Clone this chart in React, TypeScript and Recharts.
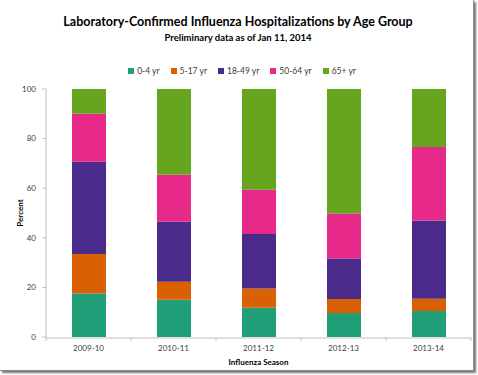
import { Bar, BarChart, Label, XAxis, YAxis } from "recharts";

const seasons = ["2009-10", "2010-11", "2011-12", "2012-13", "2013-14"];
const age0to4 = [17.5, 15.0, 11.8, 9.7, 10.5];
const age5to17 = [16.0, 7.3, 7.8, 5.6, 4.9];
const age18to49 = [37.2, 24.2, 21.9, 16.4, 31.6];
const age50to64 = [19.3, 18.9, 17.9, 18.1, 29.6];
const age65plus = [10.0, 34.6, 40.6, 50.2, 23.4];
const percentTicks = [0, 20, 40, 60, 80, 100];

const series = [
  { key: "a0", name: "0-4 yr", values: age0to4, color: "#1f9e78" },
  { key: "a5", name: "5-17 yr", values: age5to17, color: "#da6004" },
  { key: "a18", name: "18-49 yr", values: age18to49, color: "#4a2a8b" },
  { key: "a50", name: "50-64 yr", values: age50to64, color: "#e7298a" },
  { key: "a65", name: "65+ yr", values: age65plus, color: "#66a61e" },
];

const data = seasons.map((season, i) => {
  const row: Record<string, string | number> = { season, pos: i + 0.5 };
  series.forEach((s) => (row[s.key] = s.values[i]));
  return row;
});

const FONT = "Lato, 'Open Sans', sans-serif";
const AXIS = "#bfbfbf";
const TEXT = "#404040";

export default function App() {
  return (
    <div style={{ position: "absolute", left: 0, top: 0, width: 478, height: 375, background: "#fff" }}>
      <div
        style={{
          position: "absolute",
          left: 0,
          top: 0,
          width: 473,
          height: 370,
          borderRight: "1px solid #8a8a8a",
          borderBottom: "1px solid #8a8a8a",
          boxShadow: "2px 2px 2px rgba(0,0,0,0.55)",
        }}
      />
      <div
        style={{
          position: "absolute",
          top: 14,
          left: 0,
          width: 476,
          textAlign: "center",
          fontFamily: FONT,
          fontWeight: 700,
          color: "#000",
        }}
      >
        <div style={{ fontSize: 12.5, lineHeight: "16px" }}>
          Laboratory-Confirmed Influenza Hospitalizations by Age Group
        </div>
        <div style={{ fontSize: 9.5, lineHeight: "14px", marginTop: 1 }}>Preliminary data as of Jan 11, 2014</div>
      </div>
      {/* legend */}
      <div
        style={{
          position: "absolute",
          top: 65,
          left: 0,
          width: 484,
          display: "flex",
          justifyContent: "center",
          gap: 11,
          fontFamily: FONT,
          fontSize: 8.5,
          lineHeight: "12px",
          color: TEXT,
        }}
      >
        {series.map((s) => (
          <span key={s.key} style={{ display: "flex", alignItems: "center" }}>
            <span style={{ width: 6, height: 6, background: s.color, marginRight: 3, display: "inline-block" }} />
            {s.name}
          </span>
        ))}
      </div>
      <BarChart
        width={478}
        height={375}
        data={data}
        margin={{ top: 89, right: 7, bottom: 0, left: 8 }}
        style={{ position: "absolute", left: 0, top: 0 }}
      >
        <XAxis
          xAxisId="a"
          type="number"
          dataKey="pos"
          domain={[0, seasons.length]}
          ticks={seasons.map((_, i) => i).concat(seasons.length)}
          height={1}
          axisLine={false}
          tickSize={4}
          tickLine={{ stroke: AXIS }}
          tickFormatter={() => ""}
        />
        <XAxis
          xAxisId="b"
          dataKey="season"
          height={37}
          interval={0}
          tickLine={false}
          tickSize={4}
          tickMargin={3}
          axisLine={{ stroke: AXIS }}
          tick={{ fontSize: 8, fill: TEXT, fontFamily: FONT }}
        >
          <Label
            value="Influenza Season"
            position="insideBottom"
            offset={10}
            style={{ fontSize: 8, fontWeight: 700, fill: "#000", fontFamily: FONT }}
          />
        </XAxis>
        <YAxis
          domain={[0, 100]}
          ticks={percentTicks}
          width={38}
          tickSize={4}
          tickMargin={6}
          axisLine={{ stroke: AXIS }}
          tickLine={{ stroke: AXIS }}
          tick={{ fontSize: 8, fill: TEXT, fontFamily: FONT }}
        >
          <Label
            value="Percent"
            angle={-90}
            position="insideLeft"
            offset={12}
            style={{ textAnchor: "middle", fontSize: 8, fontWeight: 700, fill: "#000", fontFamily: FONT }}
          />
        </YAxis>
        {series.map((s) => (
          <Bar
            key={s.key}
            xAxisId="b"
            dataKey={s.key}
            name={s.name}
            stackId="age"
            fill={s.color}
            barSize={34}
            isAnimationActive={false}
          />
        ))}
      </BarChart>
    </div>
  );
}
